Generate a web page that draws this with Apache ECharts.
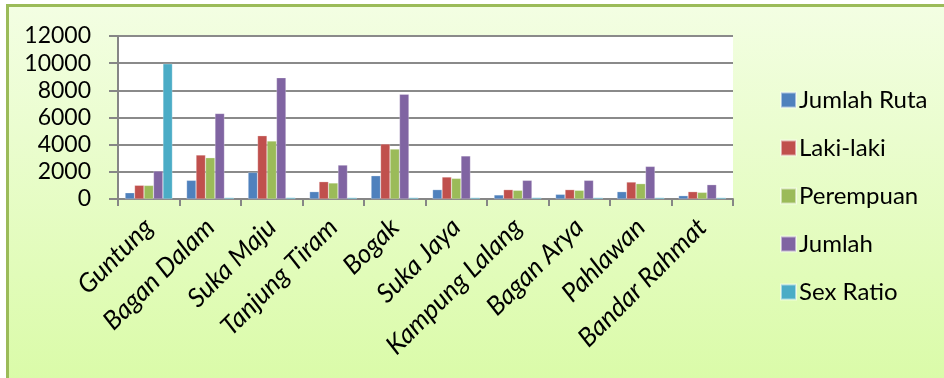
<!DOCTYPE html>
<html><head><meta charset="utf-8">
<script src="https://cdn.jsdelivr.net/npm/echarts@6/dist/echarts.min.js"></script>
<style>html,body{margin:0;padding:0;background:#fff}#c{width:944px;height:378px}</style>
</head><body><div id="c"></div>
<script>
const categories = ['Guntung','Bagan Dalam','Suka Maju','Tanjung Tiram','Bogak','Suka Jaya','Kampung Lalang','Bagan Arya','Pahlawan','Bandar Rahmat'];
const jumlahRuta = [460,1375,1960,540,1715,690,300,345,540,245];
const lakiLaki   = [1010,3240,4660,1275,4050,1620,690,690,1250,540];
const perempuan  = [1000,3040,4270,1180,3680,1520,640,640,1130,490];
const jumlah     = [2060,6300,8930,2500,7710,3170,1375,1375,2400,1055];
const sexRatio   = [9950,105,108,105,106,104,106,104,105,103];
const yTicks = [0,2000,4000,6000,8000,10000,12000];

const FONT = 'Lato';
const names = ['Jumlah Ruta','Laki-laki','Perempuan','Jumlah','Sex Ratio'];
const colors = ['#4F81BD','#C0504D','#9BBB59','#8064A2','#4BACC6'];
const datas = [jumlahRuta,lakiLaki,perempuan,jumlah,sexRatio];

const chart = echarts.init(document.getElementById('c'));
chart.setOption({
  animation:false,
  graphic:[{
    type:'rect', z:-10, silent:true,
    shape:{x:7.5,y:5.5,width:950,height:390},
    style:{
      fill:new echarts.graphic.LinearGradient(0,0,0,1,[{offset:0,color:'#f3fee3'},{offset:1,color:'#d9fba6'}]),
      stroke:'#9bbb59', lineWidth:3
    }
  }],
  grid:{left:118,right:211,top:36,bottom:179,show:true,backgroundColor:'#ffffff',borderWidth:0,containLabel:false},
  legend:{
    orient:'vertical', left:775, top:83, itemWidth:15, itemHeight:15, itemGap:24,
    icon:'rect',
    textStyle:{fontFamily:FONT,fontSize:24,lineHeight:24,color:'#000',padding:[0,0,0,-2]},
    data:names
  },
  xAxis:{
    type:'category', data:categories,
    axisLine:{lineStyle:{color:'#868686',width:2}},
    axisTick:{show:true,length:7,lineStyle:{color:'#868686',width:2}},
    axisLabel:{rotate:45,fontFamily:FONT,fontStyle:'italic',fontSize:26,color:'#000',margin:24,interval:0}
  },
  yAxis:{
    type:'value', min:0, max:12000, interval:2000,
    axisLine:{show:true,lineStyle:{color:'#868686',width:2}},
    axisTick:{show:true,length:9,lineStyle:{color:'#868686',width:2}},
    axisLabel:{fontFamily:FONT,fontSize:23,color:'#000',margin:27,
      formatter:v=>yTicks.includes(v)?String(v):''},
    splitLine:{lineStyle:{color:'#8a8a8a',width:2}}
  },
  series: names.map((n,i)=>({
    name:n, type:'bar', data:datas[i], barGap:'0%', barCategoryGap:'23%',
    itemStyle:{color:colors[i],borderColor:'rgba(255,255,255,0.5)',borderWidth:0.5}
  }))
});
</script></body></html>
